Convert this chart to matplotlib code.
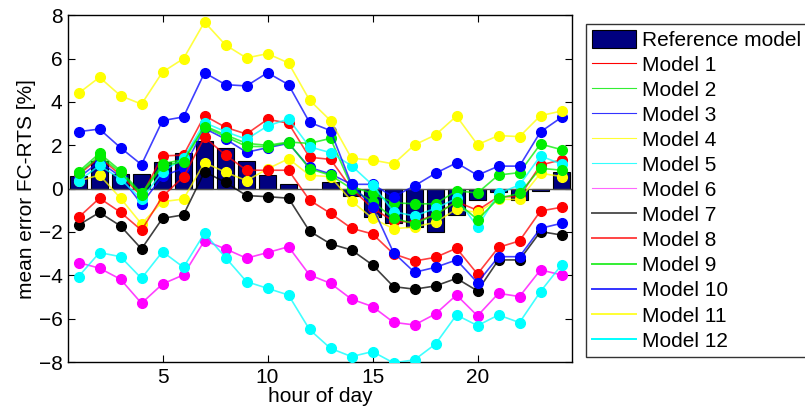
import matplotlib
matplotlib.use("Agg")
import matplotlib.pyplot as plt
from matplotlib.lines import Line2D
from matplotlib.patches import Patch

plt.rcParams['font.family'] = ['Liberation Sans', 'DejaVu Sans']

hours = list(range(1, 25))
reference = [0.6, 1.29, 0.68, 0.68, 1.25, 1.63, 2.22, 1.89, 1.29, 0.65, 0.22, 0.0,
             0.29, -0.34, -1.32, -1.6, -1.75, -1.98, -1.22, -0.52, -0.15, -0.52, -0.1, 0.78]

model1 = [0.63, 1.45, 0.63, -0.34, 1.51, 1.55, 3.37, 2.83, 2.52, 3.2, 3.02, 1.45,
          1.35, 0.0, -0.9, -1.5, -1.55, -1.2, -0.6, -1.0, -0.37, -0.37, 1.09, 1.33]
model2 = [0.78, 1.63, 0.83, -0.22, 1.14, 1.35, 2.9, 2.48, 2.09, 2.0, 2.15, 2.09,
          2.32, 0.09, -0.22, -0.65, -0.7, -0.7, -0.1, -0.2, 0.63, 0.74, 2.06, 1.8]
model3 = [0.5, 1.25, 0.55, -0.71, 0.58, 0.94, 2.78, 2.29, 1.68, 1.89, 2.09, 0.98,
          0.68, 0.2, 0.2, -0.38, 0.13, 0.71, 1.19, 0.62, 1.04, 1.04, 2.62, 3.29]
model4 = [0.35, 0.63, -0.44, -1.63, -0.6, -0.48, 1.2, 0.76, 0.37, 0.91, 1.38, 0.62,
          0.55, -0.57, -1.37, -1.85, -1.77, -1.55, -0.95, -1.1, -0.49, -0.5, 0.71, 0.56]
model5 = [0.35, 1.07, 0.45, -0.49, 0.78, 1.4, 3.05, 2.63, 2.28, 2.89, 3.22, 1.93,
          1.66, 1.06, 0.17, -1.06, -1.26, -0.91, -0.45, -1.75, -0.22, 0.17, 1.51, 1.13]
model6 = [-3.41, -3.67, -4.18, -5.29, -4.4, -3.98, -2.4, -2.78, -3.21, -2.95, -2.68, -3.98,
          -4.37, -5.1, -5.44, -6.17, -6.29, -5.78, -4.91, -5.87, -4.83, -4.98, -3.75, -3.98]
model7 = [-1.68, -1.1, -1.72, -2.78, -1.37, -1.21, 0.78, 0.29, -0.32, -0.37, -0.44, -1.96,
          -2.55, -2.83, -3.52, -4.52, -4.64, -4.49, -4.14, -4.72, -3.29, -3.29, -1.98, -2.14]
model8 = [-1.33, -0.44, -1.09, -1.92, -0.36, 0.55, 2.37, 1.55, 0.85, 0.85, 0.85, -0.53,
          -1.14, -1.83, -2.09, -3.01, -3.34, -3.17, -2.75, -3.94, -2.71, -2.41, -1.03, -0.86]
model9 = [0.7, 1.5, 0.75, -0.3, 1.05, 1.25, 2.85, 2.4, 1.95, 1.94, 2.12, 0.92,
          0.62, 0.0, -0.6, -1.37, -1.62, -1.2, -0.6, -1.43, -0.45, -0.22, 0.94, 0.85]
model10 = [2.63, 2.75, 1.89, 1.11, 3.14, 3.31, 5.35, 4.8, 4.74, 5.35, 4.8, 3.06,
           2.68, 0.2, -0.83, -2.95, -3.86, -3.63, -3.29, -4.34, -3.14, -3.14, -1.83, -1.6]
model11 = [4.4, 5.14, 4.29, 3.9, 5.38, 6.0, 7.69, 6.63, 6.03, 6.23, 5.8, 4.09,
           3.14, 1.4, 1.32, 1.14, 2.02, 2.48, 3.35, 2.03, 2.45, 2.4, 3.37, 3.58]
model12 = [-4.06, -2.95, -3.14, -4.14, -2.91, -3.63, -2.06, -3.18, -4.29, -4.6, -4.91, -6.5,
           -7.37, -7.75, -7.52, -8.04, -7.9, -7.17, -5.83, -6.32, -5.83, -6.18, -4.75, -3.52]

model_names = ["Model %d" % i for i in range(1, 13)]
model_values = [model1, model2, model3, model4, model5, model6,
                model7, model8, model9, model10, model11, model12]
model_colors = ["#ff0000", "#00ee00", "#0000ff", "#ffff00", "#00ffff", "#ff00ff",
                "#000000", "#ff0000", "#00ee00", "#0000ff", "#ffff00", "#00ffff"]

fig = plt.figure(figsize=(8.05, 4.12), dpi=100)
ax = fig.add_axes([68 / 805, 1 - 362 / 412, (572 - 68) / 805, (362 - 15.3) / 412])

ax.bar(hours, reference, width=0.8, color="#000080", edgecolor="black", linewidth=0.8, zorder=2)
ax.axhline(0, color="#555555", lw=1.0, zorder=2.5)

for i, (vals, col) in enumerate(zip(model_values, model_colors)):
    ax.plot(hours, vals, color=col, lw=1.2, alpha=0.75, zorder=3 + i * 0.01)
    ax.plot(hours, vals, 'o', color=col, markersize=7, zorder=3.005 + i * 0.01)

ax.set_xlim(0.5, 24.5)
ax.set_ylim(-8, 8)
ax.set_xticks([5, 10, 15, 20])
ax.set_yticks(range(-8, 9, 2))
ax.tick_params(direction='in', top=True, right=True, labelsize=15, length=5, pad=4)
ax.set_xlabel("hour of day", fontsize=15, labelpad=0)
ax.set_ylabel("mean error FC-RTS [%]", fontsize=15, labelpad=2)
for s in ax.spines.values():
    s.set_linewidth(1.0)

handles = [Patch(facecolor="#000080", edgecolor="black", linewidth=0.8)]
labels = ["Reference model"] + model_names
lw_leg = [0.8] * 6 + [1.4] * 6
leg_colors = ["#ff0000", "#33ee33", "#3333ff", "#ffff33", "#33ffff", "#ff66ff",
              "#555555", "#ff4444", "#33ee33", "#3333ff", "#ffff33", "#00ffff"]
for c, w in zip(leg_colors, lw_leg):
    handles.append(Line2D([], [], color=c, lw=w))
leg = fig.legend(handles, labels, loc="upper left",
                 bbox_to_anchor=(586 / 805, 1 - 24 / 412), bbox_transform=fig.transFigure,
                 fontsize=15, frameon=True, fancybox=False, edgecolor="black",
                 handlelength=2.1, handleheight=0.9, handletextpad=0.3,
                 labelspacing=0.25, borderpad=0.3, borderaxespad=0)
leg.get_frame().set_linewidth(1.0)

fig.savefig("out.png", dpi=100)
